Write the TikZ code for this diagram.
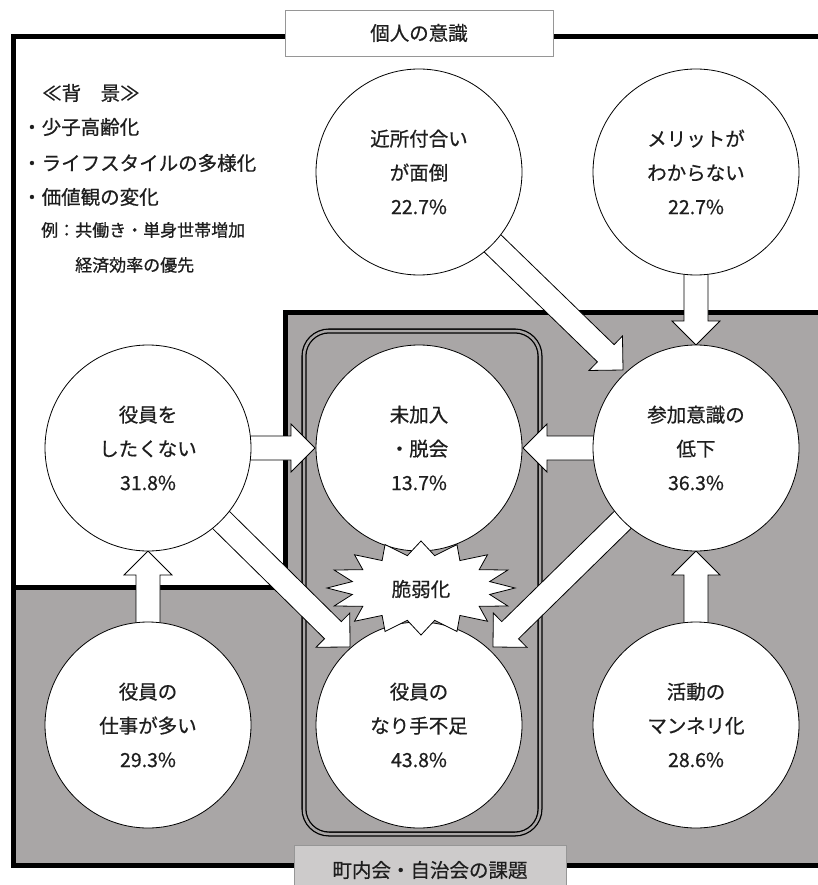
\documentclass[tikz,border=0pt]{standalone}
\usepackage{fontspec}
\setmainfont{Noto Sans CJK JP}[FakeBold=0.6]
\usetikzlibrary{calc}
\definecolor{graybg}{RGB}{169,166,166}
\definecolor{boxgray}{RGB}{205,203,203}
\definecolor{boxline}{RGB}{150,150,150}
\definecolor{txt}{RGB}{30,30,30}
\tikzset{
  bubble/.style={circle, draw=black, line width=0.8pt, fill=white, minimum size=206pt, inner sep=0pt, align=center, text=txt, font=\fontsize{19.5}{34}\selectfont},
  blockarrow/.style={fill=white, draw=black, line width=0.8pt, line join=miter},
  bgtext/.style={anchor=west, inner sep=0pt, text=txt, font=\fontsize{19.5}{24}\selectfont},
  bgsmall/.style={anchor=west, inner sep=0pt, text=txt, font=\fontsize{17}{20}\selectfont},
  titlebox/.style={draw=boxline, line width=0.8pt, fill=white, minimum width=268pt, minimum height=46pt, inner sep=0pt, text=txt, font=\fontsize{19.5}{24}\selectfont},
  bottombox/.style={draw=boxline, line width=0.8pt, fill=boxgray, minimum width=272pt, minimum height=50pt, inner sep=0pt, text=txt, font=\fontsize{19.5}{24}\selectfont},
  burstshape/.style={fill=white, draw=black, line width=0.8pt, line join=miter}
}
\newcommand\barrow[2]{%
  \draw[blockarrow] let \p1=($(#2)-(#1)$), \n1={atan2(\y1,\x1)}, \n2={veclen(\x1,\y1)-24} in
    ($(#1)+(\n1+90:12)$) -- ($(#1)+(\n1:\n2)+(\n1+90:12)$) -- ($(#1)+(\n1:\n2)+(\n1+90:24)$) -- (#2)
    -- ($(#1)+(\n1:\n2)+(\n1-90:24)$) -- ($(#1)+(\n1:\n2)+(\n1-90:12)$) -- ($(#1)+(\n1-90:12)$) -- cycle;}
\begin{document}
\begin{tikzpicture}[x=1pt,y=1pt]
\path[use as bounding box] (0,0) rectangle (818,-885);
\clip (0,0) rectangle (818,-885);
% regions
\fill[white] (0,0) rectangle (818,-885);
\fill[graybg] (13,-587) -- (285,-587) -- (285,-312) -- (830,-312) -- (830,-865) -- (13,-865) -- cycle;
\draw[line width=5pt, line join=miter] (830,-37) -- (13,-37) -- (13,-865) -- (830,-865);
\draw[line width=5pt, line join=miter] (13,-587) -- (285,-587) -- (285,-312) -- (830,-312);
% double rounded frame
\draw[line width=1.3pt, double=graybg, double distance=2.5pt, rounded corners=25pt] (304,-331) rectangle (540,-834);
% background text
\node[bgtext] (bg1) at (42,-93) {≪背　景≫};
\node[bgtext] (bg2) at (22,-127) {・少子高齢化};
\node[bgtext] (bg3) at (22,-163) {・ライフスタイルの多様化};
\node[bgtext] (bg4) at (22,-197) {・価値観の変化};
\node[bgsmall] (bg5) at (41,-230) {例：共働き・単身世帯増加};
\node[bgsmall] (bg6) at (75,-265) {経済効率の優先};
% circle positions and arrow tips
\coordinate (ckinjo) at (419,-172);
\coordinate (cmerit) at (696,-172);
\coordinate (cyakuin) at (148,-448);
\coordinate (cmikanyu) at (419,-448);
\coordinate (csanka) at (696,-448);
\coordinate (cshigoto) at (148,-725);
\coordinate (cnarite) at (419,-725);
\coordinate (cmanneri) at (696,-725);
\coordinate (t1) at (315,-448);
\coordinate (t2) at (523,-448);
\coordinate (t3) at (696,-345);
\coordinate (t4) at (623,-370);
\coordinate (t5) at (350,-647);
\coordinate (t6) at (493,-647);
\coordinate (t7) at (148,-551);
\coordinate (t8) at (696,-551);
% arrows
\barrow{cyakuin}{t1}
\barrow{csanka}{t2}
\barrow{cmerit}{t3}
\barrow{ckinjo}{t4}
\barrow{cyakuin}{t5}
\barrow{csanka}{t6}
\barrow{cshigoto}{t7}
\barrow{cmanneri}{t8}
% circles
\node[bubble] (kinjo) at (ckinjo) {近所付合い\\が面倒\\22.7\%};
\node[bubble] (merit) at (cmerit) {メリットが\\わからない\\22.7\%};
\node[bubble] (yakuin) at (cyakuin) {役員を\\したくない\\31.8\%};
\node[bubble] (mikanyu) at (cmikanyu) {未加入\\・脱会\\13.7\%};
\node[bubble] (sanka) at (csanka) {参加意識の\\低下\\36.3\%};
\node[bubble] (shigoto) at (cshigoto) {役員の\\仕事が多い\\29.3\%};
\node[bubble] (narite) at (cnarite) {役員の\\なり手不足\\43.8\%};
\node[bubble] (manneri) at (cmanneri) {活動の\\マンネリ化\\28.6\%};
% burst
\draw[burstshape] (421,-541) \foreach \k in {1,...,31}{ -- ({421+ifthenelse(mod(\k,2)==0,94,70)*cos(90+\k*11.25)}, {-588+ifthenelse(mod(\k,2)==0,47,33)*sin(90+\k*11.25)}) } -- cycle;
\node[inner sep=0pt, text=txt, font=\fontsize{19.5}{24}\selectfont] (burst) at (421,-589) {脆弱化};
% title boxes
\node[titlebox] (kojin) at (419,-33) {個人の意識};
\node[bottombox] (chonai) at (430,-870) {町内会・自治会の課題};
\end{tikzpicture}
\end{document}
